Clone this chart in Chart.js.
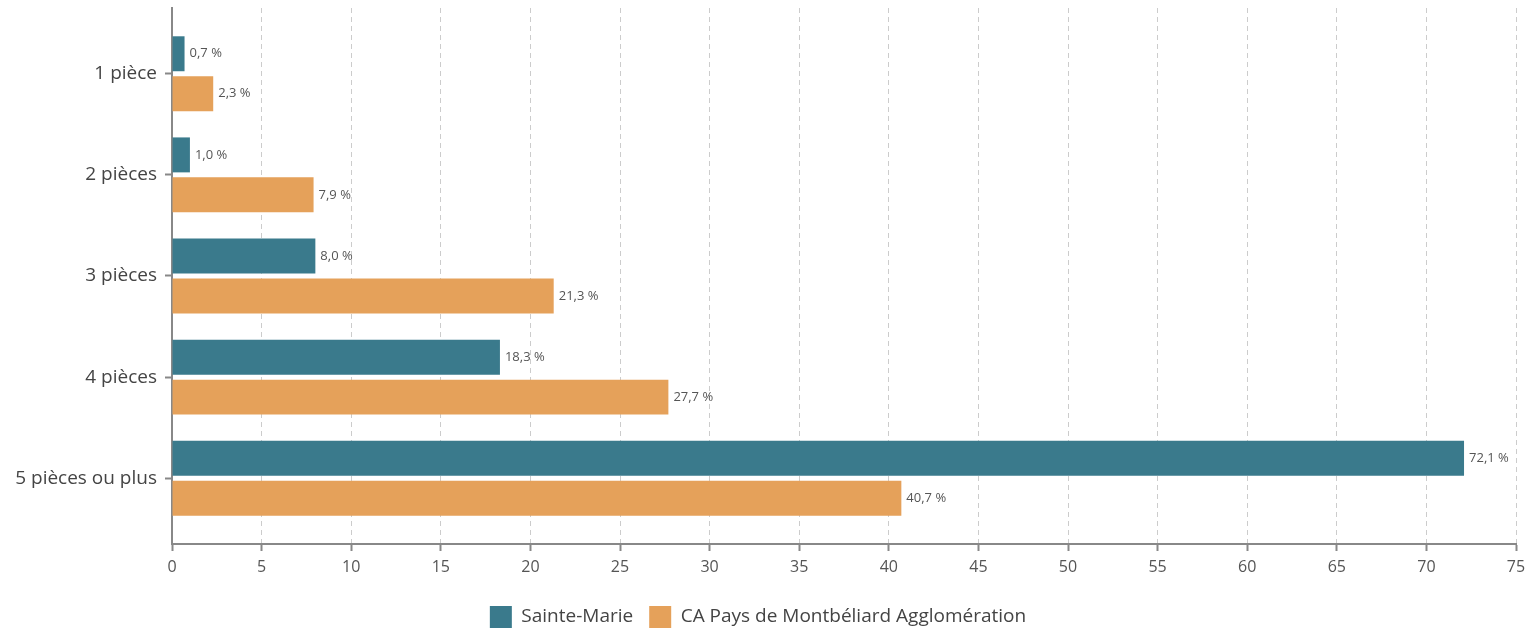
<!DOCTYPE html>
<html>
<head>
<meta charset="utf-8">
<script src="https://cdn.jsdelivr.net/npm/chart.js@4/dist/chart.umd.min.js"></script>
<style>
  html, body { margin: 0; padding: 0; background: #fff; }
  #wrap { width: 1528px; height: 628px; }
</style>
</head>
<body>
<div id="wrap"><canvas id="myChart" width="1528" height="628"></canvas></div>
<script>
// data
const categories = ['1 pièce', '2 pièces', '3 pièces', '4 pièces', '5 pièces ou plus'];
const sainteMarie = [0.7, 1.0, 8.0, 18.3, 72.1];
const caMontbeliard = [2.3, 7.9, 21.3, 27.7, 40.7];
const seriesNames = ['Sainte-Marie', 'CA Pays de Montbéliard Agglomération'];
const xTicks = [0, 5, 10, 15, 20, 25, 30, 35, 40, 45, 50, 55, 60, 65, 70, 75];

const FONT = "'Open Sans', 'DejaVu Sans', sans-serif";

function fmt(v) {
  return v.toFixed(1).replace('.', ',') + '\u00A0%';
}

// labels at the end of each bar
const valueLabels = {
  id: 'valueLabels',
  afterDatasetsDraw(chart) {
    const ctx = chart.ctx;
    ctx.save();
    ctx.font = '13px ' + FONT;
    ctx.fillStyle = '#555';
    ctx.textAlign = 'left';
    ctx.textBaseline = 'middle';
    chart.data.datasets.forEach((ds, di) => {
      const meta = chart.getDatasetMeta(di);
      meta.data.forEach((bar, i) => {
        ctx.fillText(fmt(ds.data[i].x), bar.x + 5, bar.y);
      });
    });
    ctx.restore();
  }
};

const ctx = document.getElementById('myChart').getContext('2d');
const chart = new Chart(ctx, {
  type: 'bar',
  data: {
    datasets: [{
      label: seriesNames[0],
      backgroundColor: '#3a7a8c',
      borderWidth: 0,
      data: sainteMarie.map((v, i) => ({ x: v, y: i }))
    }, {
      label: seriesNames[1],
      backgroundColor: '#e5a15a',
      borderWidth: 0,
      data: caMontbeliard.map((v, i) => ({ x: v, y: i }))
    }]
  },
  options: {
    responsive: false,
    animation: false,
    indexAxis: 'y',
    categoryPercentage: 0.79,
    barPercentage: 0.875,
    layout: { padding: { top: 8, right: 12, left: 0, bottom: -10 } },
    plugins: {
      tooltip: { enabled: false },
      legend: {
        position: 'bottom',
        labels: {
          boxWidth: 22,
          boxHeight: 22,
          padding: 16,
          color: '#444',
          font: { family: FONT, size: 19 }
        }
      }
    },
    scales: {
      x: {
        type: 'linear',
        min: 0,
        max: 75,
        afterBuildTicks: s => { s.ticks = xTicks.map(v => ({ value: v })); },
        afterFit: s => { s.height = 46; s.paddingLeft = 0; s.paddingRight = 0; },
        ticks: { color: '#555', padding: 7, font: { family: FONT, size: 16 } },
        grid: { color: '#cccccc', tickColor: '#888', tickLength: 7, tickWidth: 2, tickBorderDash: [] },
        border: { color: '#888', width: 2, dash: [5, 4] }
      },
      y: {
        type: 'linear',
        reverse: true,
        offset: false,
        min: -0.65,
        max: 4.65,
        afterBuildTicks: s => { s.ticks = categories.map((c, i) => ({ value: i })); },
        afterFit: s => { s.width = 172; s.paddingTop = 0; s.paddingBottom = 0; },
        ticks: {
          color: '#444',
          padding: 8,
          font: { family: FONT, size: 19 },
          callback: v => categories[v] ?? ''
        },
        grid: { offset: false, drawOnChartArea: false, tickColor: '#888', tickLength: 7, tickWidth: 2 },
        border: { color: '#888', width: 2 }
      }
    }
  },
  plugins: [valueLabels]
});
</script>
</body>
</html>
